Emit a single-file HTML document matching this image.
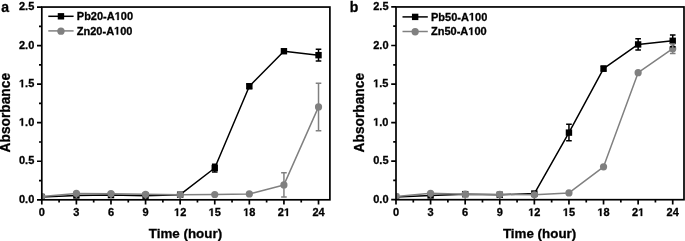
<!DOCTYPE html>
<html><head><meta charset="utf-8"><style>
html,body{margin:0;padding:0;background:#fff;width:685px;height:241px;overflow:hidden}
svg{display:block;will-change:transform}
text{font-family:"Liberation Sans", sans-serif;font-weight:bold;fill:#000;stroke:#000;stroke-width:0.3px}
.h{fill-opacity:0;stroke-opacity:0}
</style></head><body>
<svg width="685" height="241" viewBox="0 0 685 241">
<clipPath id="ca"><rect x="41.8" y="7.050000000000011" width="288.09999999999997" height="192.75"/></clipPath>
<g clip-path="url(#ca)">
<polyline points="41.80,197.02 76.39,195.48 110.98,195.10 145.57,195.71 180.16,194.71 214.75,168.03 249.34,86.23 283.93,51.23 318.52,55.16" fill="none" stroke="#000" stroke-width="1.5" stroke-linejoin="round"/>
<rect x="38.60" y="193.82" width="6.4" height="6.4" fill="#000"/>
<rect x="73.19" y="192.28" width="6.4" height="6.4" fill="#000"/>
<rect x="107.78" y="191.90" width="6.4" height="6.4" fill="#000"/>
<rect x="142.37" y="192.51" width="6.4" height="6.4" fill="#000"/>
<rect x="176.96" y="191.51" width="6.4" height="6.4" fill="#000"/>
<rect x="211.55" y="164.83" width="6.4" height="6.4" fill="#000"/>
<rect x="246.14" y="83.03" width="6.4" height="6.4" fill="#000"/>
<rect x="280.73" y="48.03" width="6.4" height="6.4" fill="#000"/>
<rect x="315.32" y="51.96" width="6.4" height="6.4" fill="#000"/>
</g>
<g clip-path="url(#ca)">
<polyline points="41.80,196.48 76.39,193.40 110.98,193.63 145.57,194.33 180.16,194.79 214.75,194.48 249.34,193.94 283.93,184.92 318.52,106.89" fill="none" stroke="#808080" stroke-width="1.5" stroke-linejoin="round"/>
<circle cx="41.80" cy="196.48" r="3.6" fill="#808080"/>
<circle cx="76.39" cy="193.40" r="3.6" fill="#808080"/>
<circle cx="110.98" cy="193.63" r="3.6" fill="#808080"/>
<circle cx="145.57" cy="194.33" r="3.6" fill="#808080"/>
<circle cx="180.16" cy="194.79" r="3.6" fill="#808080"/>
<circle cx="214.75" cy="194.48" r="3.6" fill="#808080"/>
<circle cx="249.34" cy="193.94" r="3.6" fill="#808080"/>
<circle cx="283.93" cy="184.92" r="3.6" fill="#808080"/>
<circle cx="318.52" cy="106.89" r="3.6" fill="#808080"/>
</g>
<path d="M214.75,164.18V171.89M211.95,164.18h5.6M211.95,171.89h5.6" stroke="#000" stroke-width="1.5" fill="none"/>
<path d="M249.34,83.92V88.54M246.54,83.92h5.6M246.54,88.54h5.6" stroke="#000" stroke-width="1.5" fill="none"/>
<path d="M318.52,49.30V61.02M315.72,49.30h5.6M315.72,61.02h5.6" stroke="#000" stroke-width="1.5" fill="none"/>
<path d="M76.39,193.40V198.00" stroke="#808080" stroke-width="1.6"/>
<path d="M110.98,193.63V198.23" stroke="#808080" stroke-width="1.6"/>
<path d="M145.57,194.33V198.93" stroke="#808080" stroke-width="1.6"/>
<path d="M180.16,194.79V199.39" stroke="#808080" stroke-width="1.6"/>
<path d="M283.93,172.74V197.10M281.13,172.74h5.6M281.13,197.10h5.6" stroke="#808080" stroke-width="1.5" fill="none"/>
<path d="M318.52,83.15V130.64M315.72,83.15h5.6M315.72,130.64h5.6" stroke="#808080" stroke-width="1.5" fill="none"/>
<rect x="41.8" y="7.050000000000011" width="288.09999999999997" height="192.75" fill="none" stroke="#000" stroke-width="1.7"/>
<path d="M41.80,199.8v4.8 M76.39,199.8v4.8 M110.98,199.8v4.8 M145.57,199.8v4.8 M180.16,199.8v4.8 M214.75,199.8v4.8 M249.34,199.8v4.8 M283.93,199.8v4.8 M318.52,199.8v4.8 M59.09,199.8v2.8 M93.69,199.8v2.8 M128.27,199.8v2.8 M162.87,199.8v2.8 M197.45,199.8v2.8 M232.04,199.8v2.8 M266.63,199.8v2.8 M301.23,199.8v2.8 M41.8,199.80h-4.8 M41.8,161.25h-4.8 M41.8,122.70h-4.8 M41.8,84.15h-4.8 M41.8,45.60h-4.8 M41.8,7.05h-4.8 M41.8,180.53h-2.8 M41.8,141.98h-2.8 M41.8,103.43h-2.8 M41.8,64.88h-2.8 M41.8,26.33h-2.8" stroke="#000" stroke-width="1.7" fill="none"/>
<text x="41.80" y="216" font-size="11" text-anchor="middle">0</text>
<text x="76.39" y="216" font-size="11" text-anchor="middle">3</text>
<text x="110.98" y="216" font-size="11" text-anchor="middle">6</text>
<text x="145.57" y="216" font-size="11" text-anchor="middle">9</text>
<text x="180.16" y="216" font-size="11" text-anchor="middle"><tspan class="h">1</tspan>2</text>
<text x="214.75" y="216" font-size="11" text-anchor="middle"><tspan class="h">1</tspan>5</text>
<text x="249.34" y="216" font-size="11" text-anchor="middle"><tspan class="h">1</tspan>8</text>
<text x="283.93" y="216" font-size="11" text-anchor="middle">2<tspan class="h">1</tspan></text>
<text x="318.52" y="216" font-size="11" text-anchor="middle">24</text>
<text x="34.30" y="202.90" font-size="11" text-anchor="end">0.0</text>
<text x="34.30" y="164.35" font-size="11" text-anchor="end">0.5</text>
<text x="34.30" y="125.80" font-size="11" text-anchor="end"><tspan class="h">1</tspan>.0</text>
<text x="34.30" y="87.25" font-size="11" text-anchor="end"><tspan class="h">1</tspan>.5</text>
<text x="34.30" y="48.70" font-size="11" text-anchor="end">2.0</text>
<text x="34.30" y="10.15" font-size="11" text-anchor="end">2.5</text>
<text x="185.45" y="238.1" font-size="13.65" text-anchor="middle" textLength="73.3" lengthAdjust="spacingAndGlyphs">Time (hour)</text>
<text transform="translate(10.40,112.7) rotate(-90)" font-size="13.75" text-anchor="middle">Absorbance</text>
<text x="1.30" y="12" font-size="14">a</text>
<path d="M48.30,16.30h25.3" stroke="#000" stroke-width="1.5"/>
<rect x="57.75" y="13.10" width="6.4" height="6.4" fill="#000"/>
<path d="M48.30,30.90h25.3" stroke="#808080" stroke-width="1.5"/>
<circle cx="60.95" cy="31.15" r="3.65" fill="#808080"/>
<text x="76.80" y="19.90" font-size="11">Pb20-A<tspan class="h">1</tspan>00</text>
<text x="76.80" y="34.50" font-size="11">Zn20-A<tspan class="h">1</tspan>00</text>
<clipPath id="cb"><rect x="396.0" y="6.949999999999989" width="288.0" height="192.75"/></clipPath>
<g clip-path="url(#cb)">
<polyline points="396.00,196.92 430.59,195.46 465.18,194.15 499.77,194.77 534.36,193.53 568.95,132.62 603.54,68.63 638.13,44.42 672.72,40.80" fill="none" stroke="#000" stroke-width="1.5" stroke-linejoin="round"/>
<rect x="392.80" y="193.72" width="6.4" height="6.4" fill="#000"/>
<rect x="427.39" y="192.26" width="6.4" height="6.4" fill="#000"/>
<rect x="461.98" y="190.95" width="6.4" height="6.4" fill="#000"/>
<rect x="496.57" y="191.57" width="6.4" height="6.4" fill="#000"/>
<rect x="531.16" y="190.33" width="6.4" height="6.4" fill="#000"/>
<rect x="565.75" y="129.42" width="6.4" height="6.4" fill="#000"/>
<rect x="600.34" y="65.43" width="6.4" height="6.4" fill="#000"/>
<rect x="634.93" y="41.22" width="6.4" height="6.4" fill="#000"/>
<rect x="669.52" y="37.60" width="6.4" height="6.4" fill="#000"/>
</g>
<g clip-path="url(#cb)">
<polyline points="396.00,196.38 430.59,193.30 465.18,194.15 499.77,194.38 534.36,194.77 568.95,192.92 603.54,166.78 638.13,72.64 672.72,48.66" fill="none" stroke="#808080" stroke-width="1.5" stroke-linejoin="round"/>
<circle cx="396.00" cy="196.38" r="3.6" fill="#808080"/>
<circle cx="430.59" cy="193.30" r="3.6" fill="#808080"/>
<circle cx="465.18" cy="194.15" r="3.6" fill="#808080"/>
<circle cx="499.77" cy="194.38" r="3.6" fill="#808080"/>
<circle cx="534.36" cy="194.77" r="3.6" fill="#808080"/>
<circle cx="568.95" cy="192.92" r="3.6" fill="#808080"/>
<circle cx="603.54" cy="166.78" r="3.6" fill="#808080"/>
<circle cx="638.13" cy="72.64" r="3.6" fill="#808080"/>
<circle cx="672.72" cy="48.66" r="3.6" fill="#808080"/>
</g>
<path d="M568.95,124.37V140.87M566.15,124.37h5.6M566.15,140.87h5.6" stroke="#000" stroke-width="1.5" fill="none"/>
<path d="M603.54,66.32V70.94M600.74,66.32h5.6M600.74,70.94h5.6" stroke="#000" stroke-width="1.5" fill="none"/>
<path d="M638.13,38.87V49.97M635.33,38.87h5.6M635.33,49.97h5.6" stroke="#000" stroke-width="1.5" fill="none"/>
<path d="M672.72,34.90V46.70M669.92,34.90h5.6M669.92,46.70h5.6" stroke="#000" stroke-width="1.5" fill="none"/>
<path d="M430.59,193.30V197.90" stroke="#808080" stroke-width="1.6"/>
<path d="M465.18,194.15V198.75" stroke="#808080" stroke-width="1.6"/>
<path d="M499.77,194.38V198.98" stroke="#808080" stroke-width="1.6"/>
<path d="M534.36,194.77V199.37" stroke="#808080" stroke-width="1.6"/>
<path d="M672.72,43.88V53.44M669.92,43.88h5.6M669.92,53.44h5.6" stroke="#808080" stroke-width="1.5" fill="none"/>
<rect x="396.0" y="6.949999999999989" width="288.0" height="192.75" fill="none" stroke="#000" stroke-width="1.7"/>
<path d="M396.00,199.7v4.8 M430.59,199.7v4.8 M465.18,199.7v4.8 M499.77,199.7v4.8 M534.36,199.7v4.8 M568.95,199.7v4.8 M603.54,199.7v4.8 M638.13,199.7v4.8 M672.72,199.7v4.8 M413.30,199.7v2.8 M447.88,199.7v2.8 M482.48,199.7v2.8 M517.07,199.7v2.8 M551.65,199.7v2.8 M586.25,199.7v2.8 M620.84,199.7v2.8 M655.42,199.7v2.8 M396.0,199.70h-4.8 M396.0,161.15h-4.8 M396.0,122.60h-4.8 M396.0,84.05h-4.8 M396.0,45.50h-4.8 M396.0,6.95h-4.8 M396.0,180.42h-2.8 M396.0,141.88h-2.8 M396.0,103.32h-2.8 M396.0,64.78h-2.8 M396.0,26.22h-2.8" stroke="#000" stroke-width="1.7" fill="none"/>
<text x="396.00" y="216" font-size="11" text-anchor="middle">0</text>
<text x="430.59" y="216" font-size="11" text-anchor="middle">3</text>
<text x="465.18" y="216" font-size="11" text-anchor="middle">6</text>
<text x="499.77" y="216" font-size="11" text-anchor="middle">9</text>
<text x="534.36" y="216" font-size="11" text-anchor="middle"><tspan class="h">1</tspan>2</text>
<text x="568.95" y="216" font-size="11" text-anchor="middle"><tspan class="h">1</tspan>5</text>
<text x="603.54" y="216" font-size="11" text-anchor="middle"><tspan class="h">1</tspan>8</text>
<text x="638.13" y="216" font-size="11" text-anchor="middle">2<tspan class="h">1</tspan></text>
<text x="672.72" y="216" font-size="11" text-anchor="middle">24</text>
<text x="388.50" y="202.80" font-size="11" text-anchor="end">0.0</text>
<text x="388.50" y="164.25" font-size="11" text-anchor="end">0.5</text>
<text x="388.50" y="125.70" font-size="11" text-anchor="end"><tspan class="h">1</tspan>.0</text>
<text x="388.50" y="87.15" font-size="11" text-anchor="end"><tspan class="h">1</tspan>.5</text>
<text x="388.50" y="48.60" font-size="11" text-anchor="end">2.0</text>
<text x="388.50" y="10.05" font-size="11" text-anchor="end">2.5</text>
<text x="539.60" y="238.1" font-size="13.65" text-anchor="middle" textLength="73.3" lengthAdjust="spacingAndGlyphs">Time (hour)</text>
<text transform="translate(364.20,112.7) rotate(-90)" font-size="13.75" text-anchor="middle">Absorbance</text>
<text x="349.80" y="12" font-size="14">b</text>
<path d="M402.50,16.90h25.3" stroke="#000" stroke-width="1.5"/>
<rect x="411.95" y="13.70" width="6.4" height="6.4" fill="#000"/>
<path d="M402.50,31.50h25.3" stroke="#808080" stroke-width="1.5"/>
<circle cx="415.15" cy="31.75" r="3.65" fill="#808080"/>
<text x="431.00" y="20.50" font-size="11">Pb50-A<tspan class="h">1</tspan>00</text>
<text x="431.00" y="35.10" font-size="11">Zn50-A<tspan class="h">1</tspan>00</text>
<path transform="translate(174.04,216.00) scale(0.005371,-0.005371)" d="M478,0V1170L140,959V1180L493,1409H759V0Z" fill="#000" stroke="#000" stroke-width="55.9"/>
<path transform="translate(208.62,216.00) scale(0.005371,-0.005371)" d="M478,0V1170L140,959V1180L493,1409H759V0Z" fill="#000" stroke="#000" stroke-width="55.9"/>
<path transform="translate(243.21,216.00) scale(0.005371,-0.005371)" d="M478,0V1170L140,959V1180L493,1409H759V0Z" fill="#000" stroke="#000" stroke-width="55.9"/>
<path transform="translate(283.93,216.00) scale(0.005371,-0.005371)" d="M478,0V1170L140,959V1180L493,1409H759V0Z" fill="#000" stroke="#000" stroke-width="55.9"/>
<path transform="translate(18.99,125.80) scale(0.005371,-0.005371)" d="M478,0V1170L140,959V1180L493,1409H759V0Z" fill="#000" stroke="#000" stroke-width="55.9"/>
<path transform="translate(18.99,87.25) scale(0.005371,-0.005371)" d="M478,0V1170L140,959V1180L493,1409H759V0Z" fill="#000" stroke="#000" stroke-width="55.9"/>
<path transform="translate(114.71,19.90) scale(0.005371,-0.005371)" d="M478,0V1170L140,959V1180L493,1409H759V0Z" fill="#000" stroke="#000" stroke-width="55.9"/>
<path transform="translate(114.08,34.50) scale(0.005371,-0.005371)" d="M478,0V1170L140,959V1180L493,1409H759V0Z" fill="#000" stroke="#000" stroke-width="55.9"/>
<path transform="translate(528.23,216.00) scale(0.005371,-0.005371)" d="M478,0V1170L140,959V1180L493,1409H759V0Z" fill="#000" stroke="#000" stroke-width="55.9"/>
<path transform="translate(562.83,216.00) scale(0.005371,-0.005371)" d="M478,0V1170L140,959V1180L493,1409H759V0Z" fill="#000" stroke="#000" stroke-width="55.9"/>
<path transform="translate(597.41,216.00) scale(0.005371,-0.005371)" d="M478,0V1170L140,959V1180L493,1409H759V0Z" fill="#000" stroke="#000" stroke-width="55.9"/>
<path transform="translate(638.13,216.00) scale(0.005371,-0.005371)" d="M478,0V1170L140,959V1180L493,1409H759V0Z" fill="#000" stroke="#000" stroke-width="55.9"/>
<path transform="translate(373.19,125.70) scale(0.005371,-0.005371)" d="M478,0V1170L140,959V1180L493,1409H759V0Z" fill="#000" stroke="#000" stroke-width="55.9"/>
<path transform="translate(373.19,87.15) scale(0.005371,-0.005371)" d="M478,0V1170L140,959V1180L493,1409H759V0Z" fill="#000" stroke="#000" stroke-width="55.9"/>
<path transform="translate(468.91,20.50) scale(0.005371,-0.005371)" d="M478,0V1170L140,959V1180L493,1409H759V0Z" fill="#000" stroke="#000" stroke-width="55.9"/>
<path transform="translate(468.28,35.10) scale(0.005371,-0.005371)" d="M478,0V1170L140,959V1180L493,1409H759V0Z" fill="#000" stroke="#000" stroke-width="55.9"/>
</svg>
</body></html>
